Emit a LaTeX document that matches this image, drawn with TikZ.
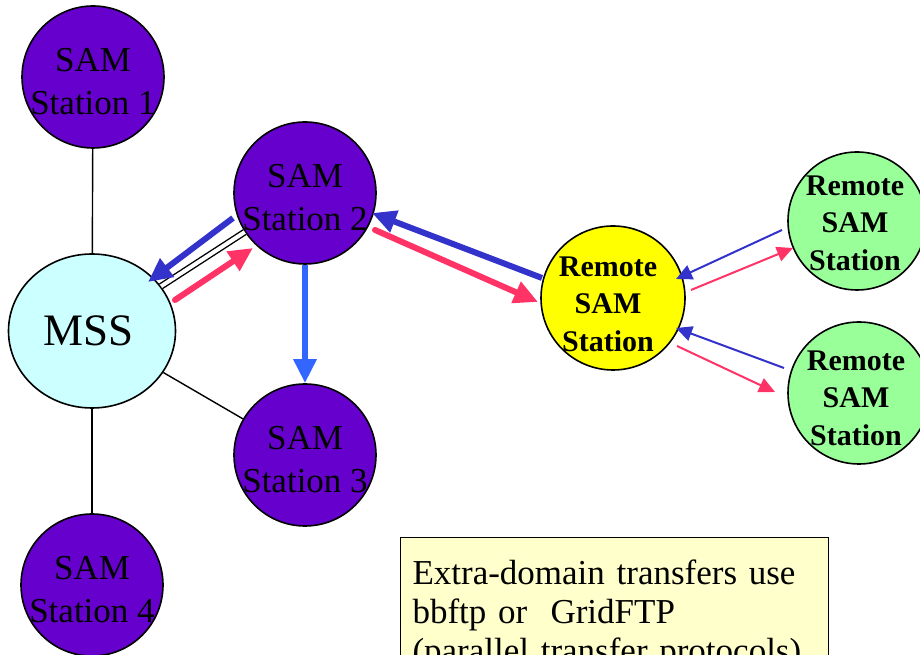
\documentclass[tikz,border=0pt]{standalone}
\usepackage{fontspec}
\setmainfont{Liberation Serif}
\usetikzlibrary{arrows.meta,calc,shapes.geometric}
\definecolor{sampurple}{HTML}{6600CC}
\definecolor{msscyan}{HTML}{CCFFFF}
\definecolor{remyellow}{HTML}{FFFF00}
\definecolor{remgreen}{HTML}{99FF99}
\definecolor{notefill}{HTML}{FFFFCC}
\definecolor{arrblue}{HTML}{3333CC}
\definecolor{arrpink}{HTML}{FF3366}
\definecolor{arrlblue}{HTML}{3366FF}
\begin{document}
\begin{tikzpicture}[x=1pt,y=1pt,
  station/.style={circle,draw=black,line width=1.6pt,fill=sampurple,minimum size=142pt,inner sep=0pt},
  remote/.style={circle,draw=black,line width=1.6pt,minimum size=#1,inner sep=0pt},
  stext/.style={align=center,font=\fontsize{35}{43}\selectfont,inner sep=0pt},
  rtext/.style={align=center,font=\fontsize{30}{37.5}\selectfont\bfseries,inner sep=0pt},
  link/.style={line width=1.4pt,black},
  bigarrow/.style={line width=6pt,-{Triangle[length=24pt,width=22pt]}},
  smallarrow/.style={line width=2pt,-{Triangle[length=16pt,width=15pt]}},
]
\useasboundingbox (0,0) rectangle (920,655);
\clip (0,0) rectangle (920,655);

% nodes
\node[station] (s1) at (93,578) {};
\node[stext] (t1) at ($(s1)+(0,-5)$) {SAM\\Station 1};
\node[station] (s2) at (305,462) {};
\node[stext] (t2) at ($(s2)+(0,-5)$) {SAM\\Station 2};
\node[station] (s3) at (305,200) {};
\node[stext] (t3) at ($(s3)+(0,-5)$) {SAM\\Station 3};
\node[station] (s4) at (92,70) {};
\node[stext] (t4) at ($(s4)+(0,-5)$) {SAM\\Station 4};
\node[ellipse,draw=black,line width=1.6pt,fill=msscyan,minimum width=167pt,minimum height=154pt,inner sep=0pt,
      font=\fontsize{45}{50}\selectfont] (mss) at (92,324) {\hspace*{-6pt}MSS};
\node[remote=144pt,fill=remyellow] (rem) at (613,357) {};
\node[rtext] (rt) at ($(rem)+(-5,-6)$) {Remote\\SAM\\Station};
\node[remote=138pt,fill=remgreen] (g1) at (857,434) {};
\node[rtext] (gt1) at ($(g1)+(-2,-2)$) {Remote\\SAM\\Station};
\node[remote=142pt,fill=remgreen] (g2) at (859,262) {};
\node[rtext] (gt2) at ($(g2)+(-3,-5)$) {Remote\\SAM\\Station};

% plain links
\draw[link] (s1) -- (mss);
\draw[link] (mss) -- (s4);
\draw[link] (mss) -- (s3);
\draw[link,double=white,double distance=4pt] (mss) -- (s2);

% thick arrows
\draw[bigarrow,arrblue] ($(s2)+(-72,-25)$) -- ($(mss)+(56,49)$);
\draw[bigarrow,arrpink,line cap=round] ($(mss)+(83,31)$) -- ($(s2)+(-52,-55)$);
\draw[bigarrow,arrlblue] (s2.south) -- (s3.north);
\draw[bigarrow,arrblue] ($(rem)+(-71,20)$) -- ($(s2)+(67,-20)$);
\draw[bigarrow,arrpink,line cap=round] ($(s2)+(70,-37)$) -- ($(rem)+(-75,-4)$);

% thin arrows
\draw[smallarrow,arrblue] ($(g1)+(-75,-9)$) -- ($(rem)+(63,19)$);
\draw[smallarrow,arrpink] ($(rem)+(78,8)$) -- ($(g1)+(-64,-27)$);
\draw[smallarrow,arrblue] ($(g2)+(-75,25)$) -- ($(rem)+(63,-30)$);
\draw[smallarrow,arrpink] ($(rem)+(64,-48)$) -- ($(g2)+(-84,1)$);

% note
\node[draw=black,line width=1pt,fill=notefill,anchor=north west,text width=404pt,
      inner xsep=12pt,inner ysep=22pt,align=left,font=\fontsize{35}{39}\selectfont] (note) at (400,118)
  {Extra-domain transfers use\\ bbftp or\ \ GridFTP\\ (parallel transfer protocols)};
\end{tikzpicture}
\end{document}
